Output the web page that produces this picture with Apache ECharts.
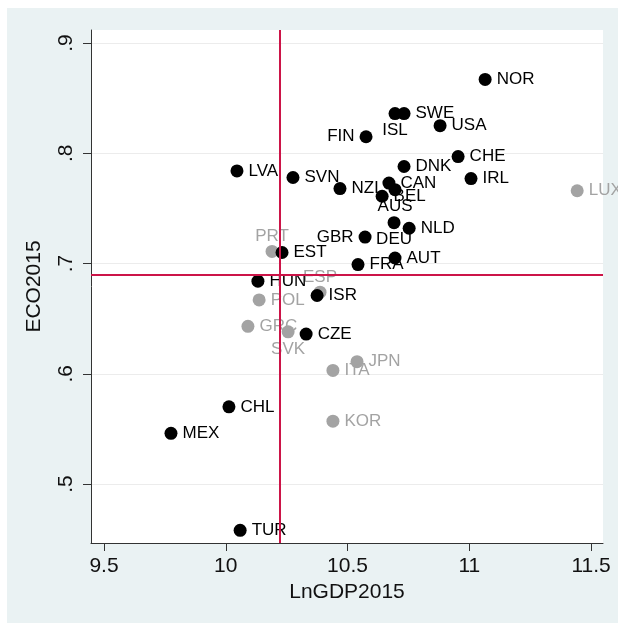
<!DOCTYPE html>
<html>
<head>
<meta charset="utf-8">
<script src="https://cdn.jsdelivr.net/npm/echarts@6/dist/echarts.min.js"></script>
<style>
  html, body { margin: 0; padding: 0; background: #ffffff; }
  #chart {
    position: absolute; left: 7px; top: 8px;
    width: 611px; height: 615px;
    background: #eaf2f3;
  }
</style>
</head>
<body>
<div id="chart"></div>
<script>
// OECD countries: log GDP per capita vs. eco-innovation score, 2015
const darkNames = ['NOR','ISL','SWE','USA','FIN','CHE','DNK','IRL','LVA','SVN','NZL','CAN','AUS','BEL','DEU','NLD','GBR','AUT','FRA','EST','HUN','ISR','CZE','CHL','MEX','TUR'];
const darkGdp   = [11.065,10.695,10.732,10.880,10.576,10.954,10.732,11.007,10.046,10.276,10.469,10.670,10.695,10.642,10.691,10.753,10.572,10.695,10.543,10.231,10.132,10.375,10.330,10.013,9.775,10.059];
const darkEco   = [0.867,0.836,0.836,0.825,0.815,0.797,0.788,0.777,0.784,0.778,0.768,0.773,0.767,0.761,0.737,0.732,0.724,0.705,0.699,0.710,0.684,0.671,0.636,0.570,0.546,0.458];

const lightNames = ['LUX','PRT','ESP','POL','GRC','SVK','JPN','ITA','KOR'];
const lightGdp   = [11.443,10.190,10.387,10.137,10.091,10.256,10.539,10.440,10.440];
const lightEco   = [0.766,0.711,0.674,0.667,0.643,0.638,0.611,0.603,0.557];

const xTicks = [9.5, 10, 10.5, 11, 11.5];
const yTicks = [0.5, 0.6, 0.7, 0.8, 0.9];

// reference lines (sample means)
const meanGdp = 10.219;
const meanEco = 0.693;

// marker labels that sit somewhere other than to the right of the dot
const labelSide = { ISL: 'bottom', AUS: 'bottom', DEU: 'bottom', SVK: 'bottom', FIN: 'left', GBR: 'left', PRT: 'top', ESP: 'top' };
const labelGap = { right: 5, left: 5, bottom: 2, top: 0 };

function points(names, xs, ys) {
  return names.map((n, i) => {
    const side = labelSide[n] || 'right';
    return {
      name: n,
      value: [xs[i], ys[i]],
      label: { position: side, distance: labelGap[side] }
    };
  });
}

const FONT = '"Liberation Sans", Arial, sans-serif';
const fmtY = v => String(v).replace(/^0/, '');

const chart = echarts.init(document.getElementById('chart'), null, { renderer: 'canvas' });
chart.setOption({
  animation: false,
  backgroundColor: 'transparent',
  grid: {
    left: 84, top: 22, right: 15, bottom: 80,
    show: true, backgroundColor: '#ffffff', borderWidth: 0
  },
  xAxis: {
    type: 'value',
    min: 9.4466, max: 11.549,
    name: 'LnGDP2015',
    nameLocation: 'middle',
    nameGap: 36,
    nameTextStyle: { fontFamily: FONT, fontSize: 21, color: '#111' },
    axisLine: { show: true, onZero: false, lineStyle: { color: '#333', width: 1 } },
    axisTick: { show: true, length: 8, inside: false, customValues: xTicks, lineStyle: { color: '#333' } },
    axisLabel: { customValues: xTicks, margin: 13, fontFamily: FONT, fontSize: 21, color: '#111', formatter: v => String(v) },
    splitLine: { show: false }
  },
  yAxis: {
    type: 'value',
    min: 0.4465, max: 0.9118,
    name: 'ECO2015',
    nameLocation: 'middle',
    nameRotate: 90,
    nameGap: 46,
    nameTextStyle: { fontFamily: FONT, fontSize: 21, color: '#111' },
    axisLine: { show: true, onZero: false, lineStyle: { color: '#333', width: 1 } },
    axisTick: { show: true, length: 8, inside: false, customValues: yTicks, lineStyle: { color: '#333' } },
    axisLabel: { customValues: yTicks, rotate: 90, margin: 14, fontFamily: FONT, fontSize: 21, color: '#111', formatter: fmtY },
    splitLine: { show: true, lineStyle: { color: '#ececec', width: 1 } }
  },
  series: [
    {
      type: 'scatter',
      name: 'light',
      z: 2,
      symbol: 'circle',
      symbolSize: 13,
      itemStyle: { color: '#a3a3a3', opacity: 1 },
      label: {
        show: true, formatter: '{b}',
        fontFamily: FONT, fontSize: 17, color: '#a3a3a3'
      },
      data: points(lightNames, lightGdp, lightEco)
    },
    {
      type: 'scatter',
      name: 'dark',
      z: 3,
      symbol: 'circle',
      symbolSize: 13,
      itemStyle: { color: '#000000', opacity: 1 },
      label: {
        show: true, formatter: '{b}',
        fontFamily: FONT, fontSize: 17, color: '#000000'
      },
      data: points(darkNames, darkGdp, darkEco),
      markLine: {
        silent: true,
        symbol: ['none', 'none'],
        label: { show: false },
        lineStyle: { color: '#cc1448', width: 2, type: 'solid' },
        data: [{ xAxis: meanGdp }, { yAxis: meanEco }]
      }
    }
  ]
});
</script>
</body>
</html>
